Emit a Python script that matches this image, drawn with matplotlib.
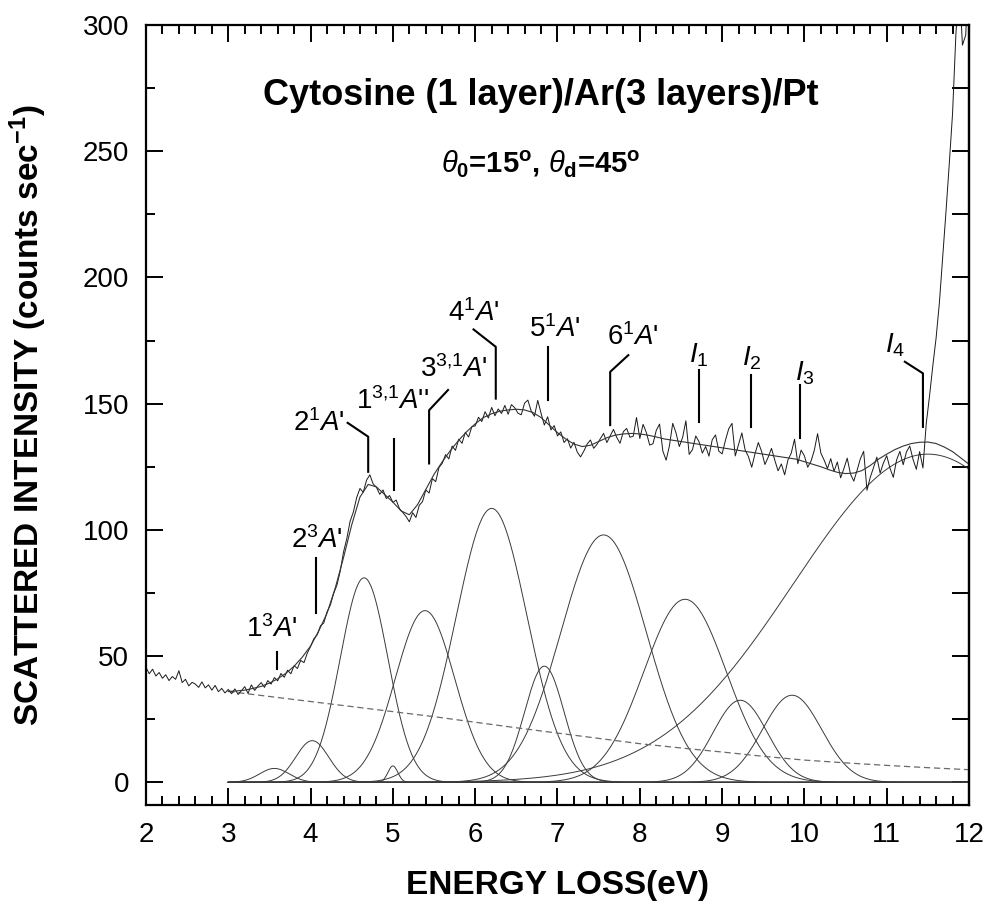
import numpy as np
import matplotlib
matplotlib.use("Agg")
import matplotlib.pyplot as plt
from matplotlib.ticker import MultipleLocator

# =====================================================
# DATA
# =====================================================

# measured spectrum, 2.00 .. 12.00 eV in 0.04 eV steps
E_START, E_STEP = 2.0, 0.04
counts = [
    45.5, 43.0, 44.8, 42.1, 43.5, 41.2, 42.6, 40.3, 41.9, 40.8,
    44.2, 39.5, 40.8, 38.2, 39.6, 38.9, 37.6, 39.8, 37.4, 38.6,
    36.5, 38.4, 35.9, 37.2, 35.4, 36.8, 35.1, 37.0, 34.8, 36.3,
    37.9, 35.2, 38.6, 36.4, 38.1, 39.5, 37.6, 40.3, 38.9, 41.5,
    40.2, 43.1, 41.6, 44.4, 43.0, 46.2, 45.1, 48.3, 47.4, 51.2,
    53.8, 56.9, 58.4, 62.0, 63.1, 67.5, 70.2, 74.8, 78.1, 83.6,
    91.2, 96.5, 103.4, 107.1, 112.8, 116.4, 114.9, 119.7, 121.8, 118.2,
    116.9, 114.1, 115.8, 112.4, 113.6, 110.9, 111.8, 108.4, 106.9, 105.3,
    103.2, 106.8, 104.9, 109.7, 111.2, 115.8, 114.6, 120.3, 119.1, 124.7,
    126.4, 129.8, 128.1, 133.2, 131.5, 135.9, 134.3, 138.6, 136.8, 140.9,
    141.2, 144.6, 142.9, 146.8, 144.3, 148.5, 145.2, 147.9, 146.1, 149.3,
    145.8, 149.6, 148.4, 146.2, 145.6, 150.2, 151.4, 147.1, 145.0, 151.3,
    146.2, 141.5, 144.8, 139.6, 141.3, 137.2, 138.8, 134.6, 136.1, 132.4,
    134.7, 130.8, 128.9, 131.2, 134.0, 135.6, 132.3, 133.9, 136.1, 138.2,
    134.6, 137.2, 139.8, 136.6, 134.3, 138.9, 140.2, 136.7, 137.1, 144.5,
    136.2, 141.8, 138.5, 133.6, 134.1, 139.4, 141.9, 131.2, 127.6, 133.3,
    142.2, 138.4, 133.0, 136.6, 143.2, 129.9, 131.8, 137.2, 134.9, 130.4,
    133.0, 129.2, 135.7, 137.6, 131.2, 130.1, 135.4, 140.0, 142.2, 129.3,
    133.9, 138.4, 131.6, 129.0, 124.8, 130.2, 134.6, 131.1, 125.9, 128.8,
    132.3, 127.6, 123.4, 126.1, 121.8, 127.7, 130.4, 135.9, 126.2, 131.6,
    129.3, 124.8, 127.2, 131.5, 138.1, 130.4, 127.6, 124.3, 128.2, 123.2,
    126.9, 120.6, 124.3, 128.4, 122.1, 119.3, 123.6, 128.2, 131.1, 115.7,
    120.8, 124.7, 128.8, 122.5, 126.5, 129.4, 124.4, 120.8, 127.7, 131.1,
    125.8, 130.9, 133.2, 127.9, 124.0, 131.0, 124.5, 142.0, 153.0, 165.0,
    176.0, 190.0, 208.0, 226.0, 245.0, 265.0, 296.0, 318.0, 292.0, 296.0,
    325.0,
]

# total fit, 3.0 .. 12.0 eV in 0.1 eV steps
FIT_START, FIT_STEP = 3.0, 0.1
fit_total = [
    36.0, 36.2, 36.5, 37.2, 38.0, 39.3, 41.0, 43.2, 46.0, 49.6,
    54.0, 60.0, 67.0, 77.0, 89.0, 102.0, 113.0, 118.0, 117.0, 114.0,
    111.0, 107.5, 106.0, 110.0, 116.0, 122.0, 127.0, 131.5, 135.5, 139.0,
    142.0, 144.5, 146.0, 147.0, 147.5, 147.8, 147.5, 146.5, 144.5, 141.5,
    138.5, 136.0, 134.0, 133.0, 133.5, 135.0, 136.5, 137.5, 138.0, 138.2,
    138.0, 137.5, 136.8, 136.0, 135.5, 135.0, 134.5, 134.0, 133.5, 133.0,
    132.5, 132.0, 131.5, 131.0, 130.5, 130.0, 129.5, 129.0, 128.5, 128.0,
    127.0, 126.0, 125.0, 123.8, 122.8, 122.3, 122.5, 123.5, 125.5, 128.0,
    130.0, 131.8, 133.2, 134.2, 134.7, 134.8, 134.2, 132.8, 131.0, 128.5,
    126.0,
]

# background (dashed), 3.0 .. 12.0 eV in 0.5 eV steps
BG_START, BG_STEP = 3.0, 0.5
background = [36.0, 34.0, 32.0, 30.0, 28.0, 26.0, 23.8, 21.6, 19.5, 17.4,
              15.3, 13.6, 12.0, 10.3, 8.8, 7.7, 6.7, 5.8, 5.0]

# gaussian components of the fit
peak_center = [3.56, 4.02, 4.65, 5.00, 5.39, 6.20, 6.84, 7.56, 8.55, 9.22, 9.85, 11.50]
peak_height = [5.5, 16.5, 81.0, 6.5, 68.0, 108.5, 46.0, 98.0, 72.5, 32.5, 34.5, 130.0]
peak_sigma = [0.18, 0.20, 0.29, 0.06, 0.36, 0.43, 0.24, 0.52, 0.50, 0.33, 0.36, 1.63]

# state labels
labels = [r"$1^{3}A$'", r"$2^{3}A$'", r"$2^{1}A$'", r"$1^{3{,}1}A$''",
          r"$3^{3{,}1}A$'", r"$4^{1}A$'", r"$5^{1}A$'", r"$6^{1}A$'",
          r"$I_{1}$", r"$I_{2}$", r"$I_{3}$", r"$I_{4}$"]
label_x = [3.53, 4.07, 4.10, 5.00, 5.74, 5.98, 6.97, 7.92, 8.72, 9.36, 10.00, 11.10]
label_y = [60.5, 96.0, 142.3, 151.0, 163.5, 185.8, 179.5, 176.5, 169.0, 168.0, 162.0, 173.0]
leader_x = [[3.59, 3.59], [4.07, 4.07], [4.45, 4.70, 4.70], [5.01, 5.01],
            [5.67, 5.44, 5.44], [5.98, 6.25, 6.25], [6.89, 6.89],
            [7.86, 7.64, 7.64], [8.72, 8.72], [9.35, 9.35], [9.95, 9.95],
            [11.22, 11.44, 11.44]]
leader_y = [[51.6, 45.0], [88.7, 66.9], [142.4, 136.9, 123.0], [136.0, 115.7],
            [155.4, 147.4, 126.3], [179.4, 172.5, 152.0], [172.5, 151.4],
            [169.2, 162.6, 141.5], [163.3, 142.8], [161.3, 140.8], [157.3, 136.2],
            [166.6, 162.0, 140.8]]

# =====================================================
# STYLE
# =====================================================

plt.rcParams["font.family"] = ["Liberation Sans", "DejaVu Sans"]
plt.rcParams["mathtext.fontset"] = "custom"
plt.rcParams["mathtext.rm"] = "Liberation Sans"
plt.rcParams["mathtext.it"] = "Liberation Sans:italic"
plt.rcParams["mathtext.bf"] = "Liberation Sans:bold"

fig = plt.figure(figsize=(9.89, 9.08), dpi=100)
ax = fig.add_axes([0.1476, 0.1134, 0.8322, 0.8591])

# =====================================================
# CURVES
# =====================================================

energy = E_START + E_STEP * np.arange(len(counts))
fit_e = FIT_START + FIT_STEP * np.arange(len(fit_total))
bg_e = BG_START + BG_STEP * np.arange(len(background))

grid = np.linspace(3.0, 12.0, 901)
for c, h, s in zip(peak_center, peak_height, peak_sigma):
    ax.plot(grid, h * np.exp(-(grid - c) ** 2 / (2 * s ** 2)),
            color="#3a3a3a", lw=0.7)

ax.plot(bg_e, background, color="#6a6a6a", lw=0.9, ls=(0, (5, 3)))
ax.plot(energy, counts, color="#1a1a1a", lw=0.7)
ax.plot(fit_e, fit_total, color="#333333", lw=0.8)

# =====================================================
# LABELS
# =====================================================

for txt, tx, ty, lx, ly in zip(labels, label_x, label_y, leader_x, leader_y):
    ax.text(tx, ty, txt, fontsize=20, ha="center", va="center")
    ax.plot(lx, ly, color="black", lw=1.5)

ax.text(6.8, 272, "Cytosine (1 layer)/Ar(3 layers)/Pt",
        fontsize=26, fontweight="bold", ha="center", va="center")
ax.text(6.8, 245,
        r"$\theta_{\mathbf{0}}$=15$^{\mathbf{o}}$, $\theta_{\mathbf{d}}$=45$^{\mathbf{o}}$",
        fontsize=21, fontweight="bold", ha="center", va="center")

# =====================================================
# AXES
# =====================================================

ax.set_xlim(2, 12)
ax.set_ylim(-9, 300)

ax.xaxis.set_major_locator(MultipleLocator(1))
ax.xaxis.set_minor_locator(MultipleLocator(0.2))
ax.yaxis.set_major_locator(MultipleLocator(50))
ax.yaxis.set_minor_locator(MultipleLocator(25))

ax.tick_params(which="both", direction="in", top=True, right=False,
               labelsize=20, width=1.4)
ax.tick_params(which="major", length=12, pad=12)
ax.tick_params(which="minor", length=6.5)

sec = ax.secondary_yaxis("right")
sec.set_yticks(np.arange(0, 301, 25))
sec.tick_params(direction="in", length=12, width=1.4, labelright=False)
sec.spines["right"].set_linewidth(1.6)

for sp in ax.spines.values():
    sp.set_linewidth(1.6)

ax.set_xlabel("ENERGY LOSS(eV)", fontsize=24, fontweight="bold")
ax.set_ylabel(r"SCATTERED INTENSITY (counts sec$^{\mathbf{-1}}$)",
              fontsize=24, fontweight="bold")
ax.xaxis.set_label_coords(0.5, -0.083)
ax.yaxis.set_label_coords(-0.118, 0.5)

fig.savefig("out.png", dpi=100)
